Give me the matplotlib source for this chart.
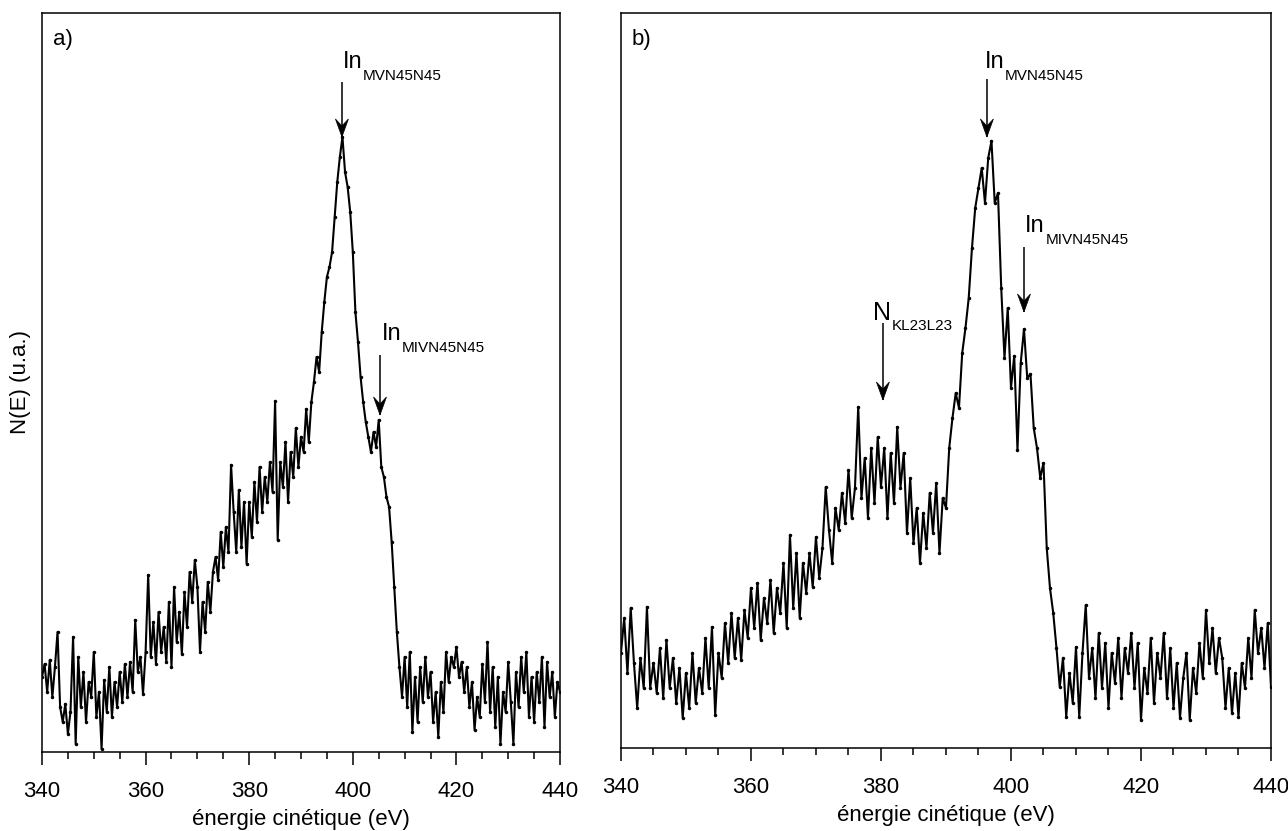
import numpy as np
import matplotlib
matplotlib.use("Agg")
import matplotlib.pyplot as plt
from matplotlib import transforms
from matplotlib.patches import Polygon

plt.rcParams['font.family'] = ['Liberation Sans', 'DejaVu Sans']

# kinetic energy grid (eV), 0.5 eV step
energy = np.arange(340, 440.5, 0.5)

# a) N(E), arbitrary units
counts_a = [
    75, 88, 60, 92, 55, 85, 120, 45, 30, 48,
    18, 40, 115, 8, 95, 45, 80, 30, 70, 55,
    100, 35, 60, 3, 72, 40, 85, 35, 70, 45,
    80, 50, 88, 55, 90, 60, 132, 80, 95, 58,
    100, 177, 95, 130, 88, 140, 100, 125, 90, 150,
    85, 165, 110, 140, 98, 160, 125, 180, 150, 192,
    165, 100, 150, 120, 170, 140, 180, 195, 172, 220,
    185, 225, 200, 287, 240, 200, 262, 205, 250, 188,
    250, 215, 270, 230, 285, 240, 275, 250, 290, 260,
    351, 212, 290, 265, 310, 250, 300, 275, 324, 285,
    315, 300, 343, 310, 350, 370, 395, 380, 420, 450,
    475, 485, 500, 535, 570, 595, 615, 580, 565, 540,
    500, 440, 410, 375, 350, 330, 315, 300, 320, 305,
    332, 285, 275, 255, 245, 210, 165, 120, 85, 55,
    95, 45, 100, 20, 75, 30, 85, 50, 95, 55,
    80, 30, 60, 15, 70, 40, 100, 70, 95, 85,
    105, 75, 90, 60, 85, 45, 70, 22, 55, 35,
    88, 50, 110, 40, 85, 25, 75, 8, 60, 40,
    90, 50, 8, 80, 45, 95, 60, 100, 35, 75,
    30, 80, 50, 95, 25, 90, 55, 80, 35, 70,
    60,
]

# b) N(E), arbitrary units
counts_b = [
    95, 130, 75, 140, 85, 40, 90, 60, 141, 60,
    85, 55, 100, 50, 108, 60, 90, 45, 80, 30,
    75, 40, 95, 45, 80, 55, 110, 60, 121, 33,
    95, 70, 125, 85, 135, 90, 130, 88, 138, 110,
    160, 120, 165, 108, 150, 125, 168, 115, 160, 135,
    185, 120, 213, 140, 195, 130, 185, 155, 195, 161,
    211, 170, 200, 261, 218, 185, 240, 218, 255, 225,
    278, 230, 260, 341, 250, 290, 230, 300, 245, 311,
    261, 300, 230, 295, 245, 321, 260, 295, 215, 270,
    205, 240, 185, 235, 200, 255, 215, 265, 195, 250,
    240, 300, 330, 355, 340, 395, 420, 450, 500, 540,
    560, 580, 545, 590, 607, 545, 555, 460, 390, 440,
    360, 392, 298, 385, 419, 370, 374, 320, 300, 270,
    285, 200, 160, 135, 100, 61, 90, 31, 75, 45,
    101, 31, 95, 143, 70, 100, 50, 115, 60, 105,
    40, 95, 65, 110, 50, 100, 75, 115, 60, 105,
    28, 80, 55, 110, 45, 95, 70, 115, 50, 100,
    40, 85, 30, 70, 95, 28, 80, 55, 105, 70,
    138, 85, 120, 75, 110, 90, 40, 80, 35, 75,
    31, 85, 60, 110, 70, 138, 95, 120, 80, 125,
    61,
]

# peak labels: (main, subscript, text x, text y, arrow x, arrow start y, arrow tip y)
peaks_a = [
    ("In", "MVN45N45", 398.1, 684, 397.9, 670, 615),
    ("In", "MIVN45N45", 405.6, 412, 405.25, 397, 337),
]
peaks_b = [
    ("N", "KL23L23", 378.8, 428, 380.3, 425, 348),
    ("In", "MVN45N45", 396.0, 680, 396.3, 669, 611),
    ("In", "MIVN45N45", 402.2, 516, 402.0, 501, 436),
]

fig = plt.figure(figsize=(12.88, 8.31), dpi=100)
ax_a = fig.add_axes([0.0326, 0.0951, 0.4022, 0.8893])
ax_b = fig.add_axes([0.4821, 0.0999, 0.5047, 0.8845])


def style_axis(ax, ymax):
    ax.set_xlim(340, 440)
    ax.set_ylim(0, ymax)
    ax.set_xticks([340, 360, 380, 400, 420, 440])
    ax.set_xticks(np.arange(340, 441, 5), minor=True)
    ax.set_yticks([])
    ax.tick_params(axis='x', which='major', direction='out', length=9,
                   width=1.1, labelsize=16, pad=12)
    ax.tick_params(axis='x', which='minor', direction='out', length=5, width=1.1)
    for sp in ax.spines.values():
        sp.set_linewidth(1.1)
    ax.set_xlabel("énergie cinétique (eV)", fontsize=16, labelpad=5)


def arrow_down(ax, x, y0, y1):
    # notched arrow head, size in inches, anchored at the tip
    L, w, notch = 0.18, 0.065, 0.11
    ax.plot([x, x], [y0, y1], color='black', lw=1.1, solid_capstyle='butt')
    trans = fig.dpi_scale_trans + transforms.ScaledTranslation(x, y1, ax.transData)
    head = Polygon([(0, 0), (-w, L), (0, notch), (w, L)], closed=True,
                   facecolor='black', edgecolor='black', lw=0.5, transform=trans)
    ax.add_patch(head)


def label_peaks(ax, peaks):
    for main, sub, tx, ty, axx, ay0, ay1 in peaks:
        size = 18 if main == "N" else 17
        adv = (0.722 if main == "N" else 0.834) * size
        drop = -7.5 if main == "N" else -8.6
        ax.annotate(main, (tx, ty), fontsize=size, ha='left', va='baseline')
        ax.annotate(sub, (tx, ty), xytext=(adv + 0.3, drop),
                    textcoords='offset points', fontsize=11,
                    ha='left', va='baseline')
        arrow_down(ax, axx, ay0, ay1)


ax_a.plot(energy, counts_a, color='black', lw=1.5, marker='.', ms=3)
style_axis(ax_a, 739)
ax_a.set_ylabel("N(E) (u.a.)", fontsize=16, labelpad=8)
ax_a.text(0.022, 0.978, "a)", transform=ax_a.transAxes, fontsize=16, va='top')
label_peaks(ax_a, peaks_a)

ax_b.plot(energy, counts_b, color='black', lw=1.5, marker='.', ms=3)
style_axis(ax_b, 735)
ax_b.text(0.016, 0.978, "b)", transform=ax_b.transAxes, fontsize=16, va='top')
label_peaks(ax_b, peaks_b)

fig.savefig("out.png", dpi=100)
